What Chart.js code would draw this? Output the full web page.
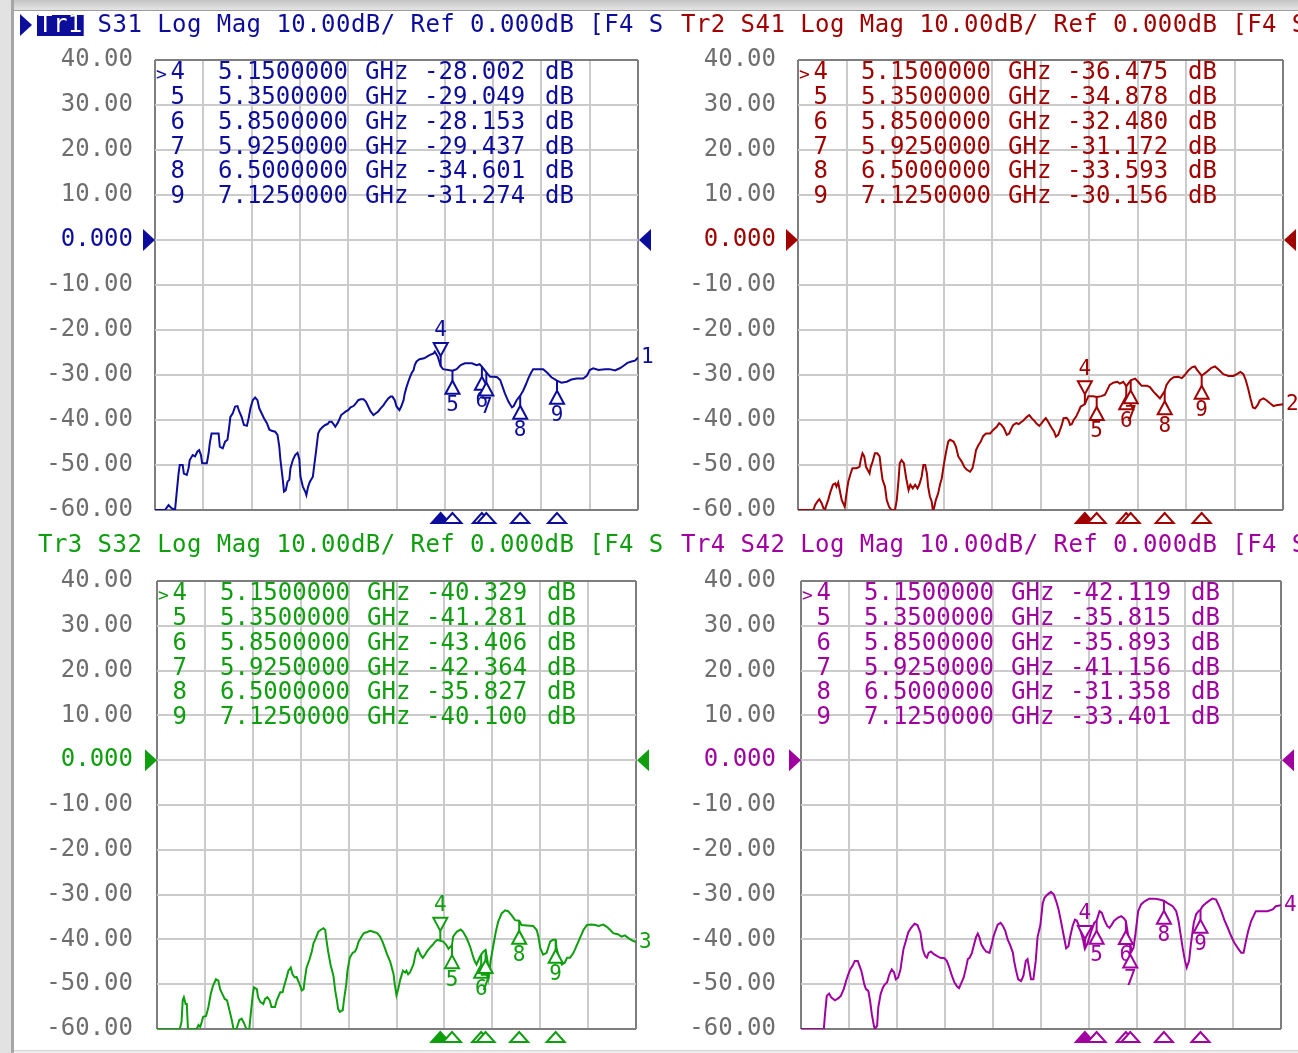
<!DOCTYPE html>
<html>
<head>
<meta charset="utf-8">
<title>S31 / S41 / S32 / S42 Log Mag</title>
<script src="https://cdn.jsdelivr.net/npm/chart.js@4.4.1/dist/chart.umd.min.js"></script>
<style>
  body { margin: 0; width: 1298px; height: 1053px; overflow: hidden; position: relative; background: #fff; }
  #frame-top { position: absolute; left: 0; top: 0; width: 1298px; height: 10px; background: linear-gradient(#c4c4c4, #e4e4e4); border-bottom: 1px solid #9c9c9c; }
  #frame-left { position: absolute; left: 0; top: 0; width: 11px; height: 1053px; background: #e2e2e2; border-right: 3px solid #a6a6a6; }
  #frame-bottom { position: absolute; left: 14px; top: 1050px; width: 1284px; height: 3px; background: #eeeeee; border-top: 1px solid #d4d4d4; }
  canvas { position: absolute; }
</style>
</head>
<body>
<div id="frame-top"></div>
<div id="frame-left"></div>
<div id="frame-bottom"></div>
<canvas id="tr1"></canvas>
<canvas id="tr2"></canvas>
<canvas id="tr3"></canvas>
<canvas id="tr4"></canvas>
<script>
// sweep 0.3 - 8.5 GHz, 10 dB/div, ref 0 dB
const START_GHZ = 0.3;
const STOP_GHZ = 8.5;
const yTicks = [40, 30, 20, 10, 0, -10, -20, -30, -40, -50, -60];

const markerIds = ['4', '5', '6', '7', '8', '9'];
const markerFreqs = [5.15, 5.35, 5.85, 5.925, 6.5, 7.125];

const s31Markers = [-28.002, -29.049, -28.153, -29.437, -34.601, -31.274];
const s41Markers = [-36.475, -34.878, -32.480, -31.172, -33.593, -30.156];
const s32Markers = [-40.329, -41.281, -43.406, -42.364, -35.827, -40.100];
const s42Markers = [-42.119, -35.815, -35.893, -41.156, -31.358, -33.401];

const s31Freq = [0.30,0.47,0.53,0.58,0.64,0.67,0.70,0.72,0.77,0.79,
  0.84,0.87,0.89,0.94,0.98,1.02,1.05,1.08,1.10,1.18,
  1.21,1.23,1.26,1.38,1.40,1.45,1.49,1.53,1.56,1.58,
  1.62,1.66,1.70,1.73,1.77,1.81,1.86,1.89,1.92,1.96,
  2.00,2.04,2.07,2.11,2.15,2.20,2.24,2.28,2.34,2.38,
  2.41,2.43,2.47,2.49,2.52,2.55,2.58,2.60,2.64,2.68,
  2.72,2.75,2.77,2.81,2.85,2.87,2.90,2.93,2.98,3.00,
  3.03,3.07,3.10,3.15,3.19,3.23,3.26,3.30,3.33,3.36,
  3.40,3.43,3.46,3.50,3.54,3.58,3.62,3.67,3.71,3.75,
  3.79,3.84,3.88,3.92,3.96,4.01,4.05,4.09,4.13,4.18,
  4.22,4.26,4.30,4.33,4.37,4.40,4.45,4.48,4.52,4.54,
  4.57,4.60,4.63,4.66,4.69,4.71,4.74,4.79,4.87,4.96,
  5.03,5.05,5.10,5.15,5.19,5.35,5.42,5.49,5.56,5.68,
  5.76,5.81,5.85,5.925,5.99,6.06,6.11,6.16,6.20,6.24,
  6.30,6.36,6.39,6.44,6.50,6.55,6.60,6.64,6.68,6.72,
  6.81,6.89,6.96,7.03,7.125,7.20,7.29,7.37,7.46,7.57,
  7.63,7.68,7.74,7.83,7.94,8.02,8.11,8.19,8.25,8.32,
  8.39,8.45,8.50];
const s31Mag = [-60,-60,-58.9,-59.6,-60,-55.9,-51.9,-50.0,-50.0,-51.9,
  -52.2,-50.7,-48.9,-47.8,-48.1,-47.0,-46.7,-47.8,-49.6,-49.6,
  -47.4,-45.2,-43.0,-43.0,-45.9,-46.3,-44.8,-44.4,-41.5,-39.3,
  -38.5,-37.0,-36.9,-38.1,-39.3,-41.1,-41.3,-39.6,-37.4,-35.6,
  -35.0,-35.6,-37.4,-38.5,-39.6,-40.7,-42.1,-42.4,-42.6,-43.3,
  -45.9,-48.9,-53.3,-55.9,-55.6,-53.7,-53.3,-50.7,-48.9,-47.8,
  -47.3,-48.7,-52.6,-54.8,-55.9,-56.7,-54.8,-53.7,-52.6,-50.4,
  -47.4,-43.0,-42.2,-41.5,-41.1,-40.9,-40.4,-40.4,-40.9,-41.5,
  -40.7,-39.9,-38.9,-38.5,-38.1,-37.8,-37.2,-36.9,-36.3,-35.6,
  -35.4,-35.4,-35.9,-37.0,-38.1,-38.9,-38.5,-38.1,-37.4,-36.7,
  -35.9,-35.2,-34.8,-34.8,-35.6,-37.0,-37.8,-37.0,-35.6,-34.1,
  -32.7,-31.5,-30.4,-29.5,-28.9,-27.8,-27.0,-26.5,-26.3,-25.6,
  -25.2,-24.8,-25.9,-28.0,-28.7,-29.05,-28.7,-27.8,-27.4,-27.4,
  -27.8,-27.6,-28.15,-29.44,-30.4,-30.4,-30.5,-31.1,-32.6,-34.1,
  -35.9,-37.2,-36.9,-35.6,-34.6,-33.5,-32.0,-30.7,-29.6,-28.7,
  -28.7,-28.7,-29.5,-30.5,-31.27,-31.7,-31.5,-31.0,-30.8,-30.8,
  -30.2,-28.9,-28.5,-28.9,-28.7,-28.7,-29.0,-28.5,-28.0,-27.3,
  -27.0,-26.8,-26.1];

const s41Freq = [0.30,0.56,0.59,0.63,0.66,0.70,0.73,0.76,0.78,0.81,
  0.85,0.89,0.93,0.95,0.98,1.01,1.04,1.07,1.09,1.12,
  1.15,1.19,1.22,1.29,1.34,1.36,1.39,1.42,1.45,1.51,
  1.53,1.56,1.60,1.64,1.68,1.70,1.73,1.77,1.80,1.84,
  1.88,1.94,1.97,2.00,2.02,2.05,2.09,2.13,2.17,2.20,
  2.24,2.28,2.32,2.35,2.39,2.42,2.45,2.48,2.50,2.53,
  2.56,2.58,2.60,2.63,2.67,2.70,2.73,2.76,2.79,2.81,
  2.84,2.87,2.93,2.97,3.01,3.07,3.11,3.15,3.21,3.25,
  3.28,3.31,3.35,3.39,3.43,3.48,3.55,3.60,3.66,3.70,
  3.74,3.78,3.83,3.87,3.91,3.94,3.99,4.03,4.06,4.11,
  4.17,4.21,4.25,4.29,4.34,4.38,4.42,4.46,4.49,4.53,
  4.56,4.59,4.63,4.66,4.70,4.73,4.76,4.79,4.84,4.87,
  4.90,4.93,4.96,5.00,5.04,5.08,5.11,5.15,5.21,5.29,
  5.35,5.43,5.49,5.53,5.57,5.63,5.70,5.74,5.80,5.85,
  5.925,6.00,6.05,6.11,6.20,6.25,6.31,6.36,6.42,6.50,
  6.53,6.59,6.65,6.73,6.79,6.84,6.90,6.96,7.01,7.05,
  7.125,7.21,7.29,7.35,7.42,7.49,7.58,7.66,7.72,7.78,
  7.83,7.87,7.91,7.95,7.99,8.03,8.07,8.11,8.17,8.22,
  8.28,8.34,8.39,8.50];
const s41Mag = [-60,-60,-58.9,-58.1,-57.6,-58.5,-59.6,-59.8,-58.9,-57.8,
  -55.9,-54.4,-54.1,-54.8,-53.9,-55.9,-57.8,-58.7,-59.3,-56.3,
  -53.7,-51.9,-50.7,-50.7,-50.4,-48.9,-47.4,-48.1,-50.4,-51.9,
  -50.4,-49.3,-47.4,-47.4,-48.1,-50.4,-53.3,-54.8,-57.8,-59.3,
  -60,-60,-57.8,-53.3,-49.6,-48.9,-49.6,-53.0,-55.6,-54.4,
  -55.2,-54.4,-55.2,-54.4,-52.6,-50.0,-50.0,-51.9,-54.8,-57.0,
  -58.1,-60,-59.6,-57.8,-56.3,-54.4,-53.0,-50.4,-48.1,-46.7,
  -44.8,-44.4,-44.8,-45.9,-48.1,-49.3,-50.4,-51.0,-51.5,-50.7,
  -48.9,-46.7,-45.6,-44.8,-43.6,-43.0,-43.0,-42.2,-41.5,-40.7,
  -41.1,-41.8,-43.3,-43.0,-41.8,-41.1,-40.7,-40.9,-40.6,-40.1,
  -39.3,-38.9,-39.6,-40.1,-40.9,-41.3,-40.7,-40.0,-39.6,-40.4,
  -41.1,-41.8,-42.6,-43.7,-43.3,-42.2,-41.1,-39.6,-39.5,-40.0,
  -41.1,-40.9,-40.0,-39.3,-38.2,-37.0,-36.8,-36.475,-34.7,-34.7,
  -34.878,-34.7,-34.4,-33.3,-32.2,-31.7,-31.5,-31.9,-31.5,-32.48,
  -31.172,-30.8,-31.5,-32.4,-32.4,-32.7,-33.7,-34.4,-35.2,-33.593,
  -32.2,-31.1,-30.5,-30.4,-30.7,-30.0,-29.0,-28.3,-28.1,-28.9,
  -30.156,-29.3,-28.4,-28.1,-28.9,-29.8,-30.2,-30.2,-29.8,-29.3,
  -29.8,-31.1,-33.0,-35.2,-37.2,-37.4,-36.7,-35.6,-35.2,-35.6,
  -36.3,-36.9,-36.7,-36.5];

const s32Freq = [0.30,0.69,0.72,0.74,0.76,0.79,0.81,0.83,0.98,1.01,
  1.04,1.06,1.09,1.14,1.18,1.22,1.26,1.31,1.35,1.38,
  1.42,1.46,1.50,1.54,1.58,1.61,1.66,1.71,1.75,1.79,
  1.83,1.88,1.90,1.94,1.96,2.01,2.03,2.07,2.12,2.15,
  2.19,2.23,2.26,2.32,2.35,2.41,2.45,2.47,2.51,2.55,
  2.59,2.62,2.66,2.69,2.74,2.78,2.81,2.83,2.86,2.91,
  2.95,2.98,3.02,3.06,3.10,3.15,3.18,3.20,3.23,3.27,
  3.32,3.35,3.38,3.40,3.43,3.48,3.50,3.54,3.56,3.60,
  3.65,3.69,3.72,3.75,3.80,3.84,3.89,3.95,4.00,4.07,
  4.12,4.16,4.20,4.24,4.29,4.32,4.35,4.37,4.40,4.43,
  4.46,4.51,4.55,4.57,4.60,4.63,4.69,4.73,4.77,4.81,
  4.85,4.89,4.92,4.97,5.02,5.06,5.10,5.15,5.20,5.25,
  5.29,5.35,5.37,5.43,5.50,5.54,5.60,5.66,5.71,5.74,
  5.77,5.82,5.85,5.89,5.925,5.96,5.98,6.01,6.06,6.10,
  6.14,6.20,6.26,6.31,6.37,6.43,6.50,6.54,6.63,6.74,
  6.80,6.83,6.86,6.91,6.97,7.03,7.08,7.125,7.14,7.19,
  7.23,7.28,7.32,7.37,7.43,7.48,7.54,7.60,7.66,7.74,
  7.80,7.86,7.94,8.00,8.06,8.11,8.20,8.25,8.31,8.37,
  8.43,8.50];
const s32Mag = [-60,-60,-58.4,-53.6,-52.9,-54.4,-54.4,-60,-60,-59.1,
  -59.5,-58.7,-57.3,-57.1,-55.1,-52.2,-50.3,-48.9,-49.2,-51.1,
  -52.2,-53.3,-53.6,-55.8,-58.0,-60,-60,-58.0,-57.7,-58.7,
  -60,-60,-57.3,-52.2,-50.7,-51.1,-52.9,-54.0,-54.4,-53.3,
  -52.9,-53.6,-55.1,-55.1,-53.6,-51.8,-51.8,-50.7,-48.9,-47.0,
  -46.3,-47.8,-48.5,-48.4,-50.0,-51.4,-51.1,-48.9,-46.3,-44.5,
  -42.7,-40.8,-39.7,-38.3,-37.9,-37.5,-37.9,-40.1,-42.7,-45.6,
  -48.1,-51.4,-53.6,-55.5,-56.2,-55.8,-53.6,-50.0,-47.0,-44.1,
  -43.0,-42.7,-41.9,-40.5,-39.4,-38.6,-38.4,-38.1,-38.3,-38.6,
  -39.4,-40.5,-41.9,-43.4,-44.9,-46.3,-47.8,-50.0,-52.5,-51.1,
  -49.2,-47.0,-47.4,-47.0,-47.8,-47.4,-45.6,-43.0,-42.1,-43.4,
  -44.1,-43.4,-42.7,-41.9,-41.2,-40.5,-40.1,-40.329,-40.5,-41.2,
  -42.1,-41.281,-39.4,-38.3,-37.8,-38.3,-39.7,-41.6,-43.8,-44.9,
  -45.6,-44.1,-43.406,-42.7,-42.364,-44.9,-48.1,-44.9,-41.2,-38.3,
  -36.1,-34.2,-33.5,-33.7,-34.6,-35.7,-35.827,-36.8,-36.9,-37.0,
  -37.9,-39.4,-41.9,-43.4,-43.0,-40.5,-40.1,-40.1,-41.9,-44.5,
  -45.6,-45.2,-44.1,-44.1,-43.0,-41.5,-39.7,-37.9,-36.8,-36.7,
  -36.8,-37.0,-36.7,-37.2,-37.9,-38.6,-38.9,-39.4,-39.1,-39.7,
  -40.2,-40.6];

const s42Freq = [0.30,0.69,0.71,0.74,0.78,0.82,0.88,0.94,0.98,1.03,
  1.07,1.10,1.14,1.18,1.22,1.27,1.30,1.33,1.35,1.38,
  1.41,1.45,1.48,1.51,1.54,1.56,1.60,1.62,1.66,1.70,
  1.73,1.77,1.81,1.85,1.89,1.92,1.96,2.00,2.02,2.05,
  2.09,2.13,2.18,2.24,2.29,2.34,2.36,2.38,2.42,2.45,
  2.48,2.52,2.57,2.62,2.68,2.75,2.79,2.83,2.87,2.92,
  2.97,3.00,3.03,3.08,3.12,3.15,3.18,3.22,3.25,3.29,
  3.32,3.35,3.38,3.42,3.46,3.52,3.56,3.59,3.63,3.66,
  3.71,3.75,3.79,3.83,3.88,3.92,3.94,3.97,4.01,4.06,
  4.10,4.14,4.17,4.20,4.23,4.27,4.31,4.34,4.39,4.43,
  4.46,4.51,4.57,4.62,4.66,4.70,4.74,4.79,4.83,4.87,
  4.90,4.94,4.98,5.01,5.05,5.11,5.15,5.20,5.25,5.31,
  5.35,5.40,5.44,5.48,5.53,5.57,5.61,5.65,5.71,5.77,
  5.81,5.85,5.89,5.925,5.95,5.98,6.02,6.06,6.11,6.17,
  6.25,6.34,6.42,6.50,6.56,6.65,6.71,6.75,6.78,6.82,
  6.86,6.89,6.93,6.96,7.01,7.05,7.09,7.125,7.16,7.22,
  7.28,7.33,7.39,7.43,7.48,7.53,7.59,7.65,7.70,7.76,
  7.82,7.86,7.90,7.94,7.99,8.03,8.07,8.16,8.27,8.36,
  8.41,8.50];
const s42Mag = [-60,-60,-56.7,-52.6,-52.1,-53.0,-53.6,-53.1,-52.6,-51.1,
  -49.3,-48.1,-46.7,-45.9,-44.8,-44.8,-45.9,-47.0,-48.1,-50.0,
  -51.1,-51.5,-53.7,-56.7,-58.9,-60,-59.3,-55.2,-52.2,-50.7,
  -50.1,-49.6,-47.8,-46.7,-47.4,-48.9,-48.5,-46.7,-44.8,-42.2,
  -40.4,-38.5,-37.4,-36.5,-36.8,-38.5,-40.4,-42.2,-43.7,-44.1,
  -43.0,-42.7,-43.3,-43.7,-44.1,-44.2,-44.8,-46.1,-47.8,-49.6,
  -50.6,-50.9,-50.0,-48.5,-46.3,-44.4,-44.1,-43.0,-41.5,-39.5,
  -38.7,-39.6,-41.1,-42.0,-42.7,-43.0,-41.1,-39.3,-37.8,-36.7,
  -36.3,-37.0,-38.1,-40.0,-41.5,-43.0,-44.8,-46.7,-48.9,-49.3,
  -48.1,-44.8,-44.4,-46.7,-48.9,-48.9,-44.8,-39.6,-36.7,-31.9,
  -30.7,-30.0,-29.4,-30.0,-31.5,-33.3,-35.9,-39.3,-42.0,-41.5,
  -39.3,-37.0,-35.6,-35.8,-37.0,-39.6,-42.119,-40.7,-38.5,-36.3,
  -35.815,-33.7,-34.1,-35.6,-37.0,-37.4,-36.7,-35.8,-35.2,-34.8,
  -35.2,-35.893,-39.3,-41.156,-42.6,-41.9,-38.1,-33.7,-32.2,-31.5,
  -30.9,-30.9,-31.1,-31.358,-31.9,-32.6,-33.7,-35.9,-38.5,-41.9,
  -44.8,-46.3,-44.8,-41.1,-36.3,-34.4,-33.7,-33.401,-32.6,-31.9,
  -31.3,-30.9,-31.1,-32.2,-33.7,-35.6,-37.4,-39.3,-40.7,-41.9,
  -43.0,-43.0,-40.4,-38.1,-35.9,-34.8,-33.7,-33.7,-33.7,-33.3,
  -32.6,-32.4];

const FONT = '"DejaVu Sans Mono", "Liberation Mono", monospace';

const panels = [
  { canvas: 'tr1', name: 'Tr1', param: 'S31', num: '1', color: '#0d0d9c', active: true,
    freq: s31Freq, mag: s31Mag, markers: s31Markers,
    box: [14, 11, 648, 521], plot: [155, 60, 638, 510], labelRight: 133, header: [38, 26] },
  { canvas: 'tr2', name: 'Tr2', param: 'S41', num: '2', color: '#a00000', active: false,
    freq: s41Freq, mag: s41Mag, markers: s41Markers,
    box: [662, 11, 636, 521], plot: [798, 60, 1283, 510], labelRight: 776, header: [681, 26] },
  { canvas: 'tr3', name: 'Tr3', param: 'S32', num: '3', color: '#0e9e0e', active: false,
    freq: s32Freq, mag: s32Mag, markers: s32Markers,
    box: [14, 532, 648, 518], plot: [157, 581, 636, 1029], labelRight: 133, header: [38, 546] },
  { canvas: 'tr4', name: 'Tr4', param: 'S42', num: '4', color: '#a000a0', active: false,
    freq: s42Freq, mag: s42Mag, markers: s42Markers,
    box: [662, 532, 636, 518], plot: [801, 581, 1281, 1029], labelRight: 776, header: [681, 546] },
];

function triangle(ctx, pts, fill, stroke) {
  ctx.beginPath();
  ctx.moveTo(pts[0][0], pts[0][1]);
  pts.slice(1).forEach(([x, y]) => ctx.lineTo(x, y));
  ctx.closePath();
  if (fill) {
    ctx.fillStyle = fill;
    ctx.fill();
  }
  if (stroke) {
    ctx.strokeStyle = stroke;
    ctx.lineWidth = 2;
    ctx.stroke();
  }
}

function drawOverlay(chart, p) {
  const ctx = chart.ctx;
  const { left, right, top, bottom } = chart.chartArea;
  const xs = chart.scales.x;
  const ys = chart.scales.y;
  const hx = p.header[0] - p.box[0];
  const hy = p.header[1] - p.box[1];

  ctx.save();
  ctx.textBaseline = 'middle';
  ctx.textAlign = 'left';

  // header line
  ctx.font = `24px ${FONT}`;
  ctx.letterSpacing = '0.45px';
  ctx.fillStyle = p.color;
  ctx.fillText(`${p.name} ${p.param} Log Mag 10.00dB/ Ref 0.000dB [F4 S`, hx, hy);
  if (p.active) {
    const w = ctx.measureText(p.name).width;
    ctx.fillRect(hx - 1, hy - 11, w + 2, 21);
    ctx.fillStyle = '#fff';
    ctx.fillText(p.name, hx, hy);
    triangle(ctx, [[hx - 18, hy - 12], [hx - 6, hy - 1], [hx - 18, hy + 10]], p.color, null);
  }
  ctx.letterSpacing = '0px';

  // reference level arrows at 0 dB
  const y0 = ys.getPixelForValue(0);
  triangle(ctx, [[left - 12, y0 - 11], [left, y0], [left - 12, y0 + 11]], p.color, null);
  triangle(ctx, [[right + 13, y0 - 11], [right + 1, y0], [right + 13, y0 + 11]], p.color, null);

  // marker table
  ctx.fillStyle = p.color;
  markerIds.forEach((id, i) => {
    const ry = top + 13 + i * 24.8;
    ctx.font = `24px ${FONT}`;
    ctx.textAlign = 'right';
    ctx.fillText(id, left + 30, ry);
    ctx.textAlign = 'left';
    ctx.fillText(markerFreqs[i].toFixed(7), left + 63, ry);
    ctx.fillText('GHz', left + 210, ry);
    ctx.fillText(p.markers[i].toFixed(3), left + 269, ry);
    ctx.fillText('dB', left + 390, ry);
    if (i === 0) {
      ctx.font = `18px ${FONT}`;
      ctx.fillText('>', left + 1, ry + 2);
    }
  });

  // marker symbols on the trace
  ctx.font = `21px ${FONT}`;
  ctx.textAlign = 'center';
  markerFreqs.forEach((f, i) => {
    const x = xs.getPixelForValue(f);
    const y = ys.getPixelForValue(p.markers[i]);
    const dir = i === 0 ? -1 : 1;
    ctx.strokeStyle = p.color;
    ctx.lineWidth = 2;
    ctx.beginPath();
    ctx.moveTo(x, y);
    ctx.lineTo(x, y + dir * 10);
    ctx.stroke();
    triangle(ctx, [[x, y + dir * 10], [x - 7, y + dir * 23], [x + 7, y + dir * 23]], '#fff', p.color);
    ctx.fillStyle = p.color;
    ctx.fillText(markerIds[i], x, y + dir * 35);
  });

  // marker position strip under the grid
  markerFreqs.forEach((f, i) => {
    const x = xs.getPixelForValue(f);
    triangle(ctx, [[x, bottom + 3], [x - 9, bottom + 13], [x + 9, bottom + 13]],
      i === 0 ? p.color : '#fff', p.color);
  });

  // trace number at the end of the sweep
  const last = p.mag.length - 1;
  ctx.textAlign = 'left';
  ctx.fillStyle = p.color;
  ctx.fillText(p.num, right + 3, ys.getPixelForValue(p.mag[last]));

  ctx.restore();
}

function gridColor(c) {
  return c.index === 0 || c.index === 10 ? '#7e7e7e' : '#cbcbcb';
}

function makePanel(p) {
  const [bx, by, bw, bh] = p.box;
  const [pl, pt, pr, pb] = p.plot;
  const canvas = document.getElementById(p.canvas);
  canvas.width = bw;
  canvas.height = bh;
  canvas.style.left = `${bx}px`;
  canvas.style.top = `${by}px`;
  canvas.style.width = `${bw}px`;
  canvas.style.height = `${bh}px`;

  const axisWidth = pl - bx;
  const xGrid = [];
  for (let i = 0; i <= 10; i++) xGrid.push(START_GHZ + (STOP_GHZ - START_GHZ) * i / 10);

  new Chart(canvas, {
    type: 'line',
    data: {
      datasets: [{
        label: p.param,
        data: p.freq.map((f, i) => ({ x: f, y: p.mag[i] })),
        borderColor: p.color,
        borderWidth: 2,
        pointRadius: 0,
        tension: 0,
        fill: false,
      }],
    },
    options: {
      responsive: false,
      animation: false,
      devicePixelRatio: 1,
      layout: {
        padding: { left: 0, top: pt - by, right: bx + bw - pr, bottom: by + bh - pb },
      },
      plugins: {
        legend: { display: false },
        tooltip: { enabled: false },
      },
      scales: {
        x: {
          type: 'linear',
          min: START_GHZ,
          max: STOP_GHZ,
          afterBuildTicks: (scale) => { scale.ticks = xGrid.map((v) => ({ value: v })); },
          afterFit: (scale) => { scale.height = 0; },
          ticks: { display: false },
          grid: { color: gridColor, lineWidth: 2, drawTicks: false },
          border: { display: false },
        },
        y: {
          min: -60,
          max: 40,
          afterBuildTicks: (scale) => { scale.ticks = yTicks.map((v) => ({ value: v })).reverse(); },
          afterFit: (scale) => { scale.width = axisWidth; },
          ticks: {
            padding: 0,
            font: { family: FONT, size: 24 },
            color: (c) => (c.tick && c.tick.value === 0 ? p.color : '#6e6e6e'),
            callback: (v) => (v === 0 ? '0.000' : Number(v).toFixed(2)),
          },
          // invisible tick marks hold the labels away from the grid
          grid: { color: gridColor, lineWidth: 2, drawTicks: true, tickLength: pl - p.labelRight, tickColor: 'rgba(0,0,0,0)' },
          border: { display: false },
        },
      },
    },
    plugins: [{ id: `overlay-${p.name}`, afterDatasetsDraw: (chart) => drawOverlay(chart, p) }],
  });
}

panels.forEach(makePanel);
</script>
</body>
</html>
